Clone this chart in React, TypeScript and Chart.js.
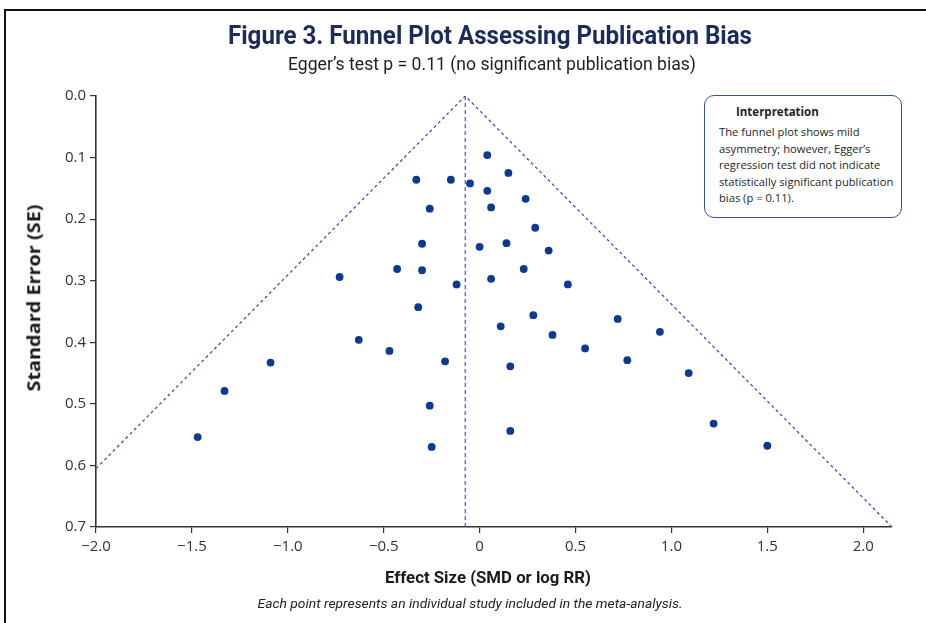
import React, { useEffect, useRef } from "react";
import { Chart, registerables } from "chart.js";

Chart.register(...registerables);

// ---- Data ----
const effectSize = [
  0.04, 0.15, -0.33, -0.15, -0.05, 0.04, 0.24, -0.26, 0.06, 0.29,
  -0.3, 0.0, 0.14, 0.36, -0.73, -0.43, -0.3, 0.23, -0.12, 0.06,
  0.46, -0.32, 0.28, 0.11, -0.63, -0.47, -0.18, 0.16, -1.09, -1.33,
  -0.26, 0.16, -1.47, -0.25, 0.72, 0.94, 0.38, 0.55, 0.77, 1.09,
  1.22, 1.5,
];
const standardError = [
  0.096, 0.125, 0.136, 0.136, 0.142, 0.154, 0.167, 0.183, 0.181, 0.214,
  0.24, 0.245, 0.239, 0.251, 0.294, 0.281, 0.283, 0.281, 0.306, 0.297,
  0.306, 0.343, 0.356, 0.374, 0.396, 0.414, 0.431, 0.439, 0.433, 0.479,
  0.503, 0.544, 0.554, 0.57, 0.362, 0.383, 0.388, 0.41, 0.429, 0.45,
  0.532, 0.568,
];
const pooledEffect = -0.075;
const funnelEffect = [-2.0, -0.075, 2.15];
const funnelSE = [0.605, 0, 0.7];
const centerSE = [0, 0.7];
const xTicks = [-2, -1.5, -1, -0.5, 0, 0.5, 1, 1.5, 2];
const yTicks = [0, 0.1, 0.2, 0.3, 0.4, 0.5, 0.6, 0.7];

const titleText = "Figure 3. Funnel Plot Assessing Publication Bias";
const subtitleText = "Egger\u2019s test p = 0.11 (no significant publication bias)";
const xTitle = "Effect Size (SMD or log RR)";
const yTitle = "Standard Error (SE)";
const footnote = "Each point represents an individual study included in the meta-analysis.";
const boxTitle = "Interpretation";
const boxLines = [
  "The funnel plot shows mild",
  "asymmetry; however, Egger\u2019s",
  "regression test did not indicate",
  "statistically significant publication",
  "bias (p = 0.11).",
];

const REGULAR = "'Open Sans', 'Noto Sans', sans-serif";

let measureCtx: CanvasRenderingContext2D | null = null;
function textWidth(text: string, font: string): number {
  if (!measureCtx) {
    const c = document.createElement("canvas");
    measureCtx = c.getContext("2d");
  }
  if (!measureCtx) return 0;
  measureCtx.font = font;
  return measureCtx.measureText(text).width;
}

function FitText(props: {
  text: string;
  font: string;
  width: number;
  cx: number;
  cy: number;
  color: string;
  rotate?: number;
}) {
  const w = textWidth(props.text, props.font);
  const s = w > 0 ? props.width / w : 1;
  return (
    <div
      style={{
        position: "absolute",
        left: props.cx,
        top: props.cy,
        font: props.font,
        lineHeight: 1.2,
        color: props.color,
        whiteSpace: "nowrap",
        transform: `translate(-50%, -50%) rotate(${props.rotate || 0}deg) scaleX(${s})`,
      }}
    >
      {props.text}
    </div>
  );
}

export default function App() {
  const ref = useRef<HTMLCanvasElement | null>(null);

  useEffect(() => {
    if (!ref.current) return;
    const fmtX = (v: number) =>
      v === 0 ? "0" : (v < 0 ? "\u2212" : "") + Math.abs(v).toFixed(1);
    const fixScale = (h: number | null, w: number | null) => (s: any) => {
      if (h !== null) s.height = h;
      if (w !== null) s.width = w;
      s.paddingLeft = 0;
      s.paddingRight = 0;
      s.paddingTop = 0;
      s.paddingBottom = 0;
    };
    const chart = new Chart(ref.current, {
      type: "scatter",
      data: {
        datasets: [
          {
            data: effectSize.map((x, i) => ({ x, y: standardError[i] })),
            backgroundColor: "#0b3a94",
            borderWidth: 0,
            pointRadius: 3.9,
          },
          {
            type: "line",
            data: funnelEffect.map((x, i) => ({ x, y: funnelSE[i] })),
            borderColor: "#3d52ad",
            borderWidth: 1.3,
            borderDash: [3, 3],
            pointRadius: 0,
            fill: false,
            tension: 0,
          },
          {
            type: "line",
            data: centerSE.map((y) => ({ x: pooledEffect, y })),
            borderColor: "#3d5cc0",
            borderWidth: 1.2,
            borderDash: [4, 3],
            pointRadius: 0,
            fill: false,
          },
        ] as any,
      },
      options: {
        animation: false,
        responsive: false,
        maintainAspectRatio: false,
        layout: { padding: { left: 0, top: 96, right: 34, bottom: 26 } },
        plugins: { legend: { display: false }, tooltip: { enabled: false } },
        scales: {
          x: {
            type: "linear",
            min: -2,
            max: 2.15,
            afterBuildTicks: (s: any) => {
              s.ticks = xTicks.map((value) => ({ value }));
            },
            afterFit: fixScale(70, null),
            grid: {
              display: true,
              drawOnChartArea: false,
              drawTicks: true,
              tickLength: 6,
              color: "#333",
              lineWidth: 1.2,
            },
            border: { display: true, color: "#333", width: 1.6 },
            ticks: {
              callback: (v: any) => fmtX(Number(v)),
              font: { family: REGULAR, size: 15 },
              color: "#333",
              padding: 5,
              maxRotation: 0,
              autoSkip: false,
            },
          },
          y: {
            type: "linear",
            reverse: true,
            min: 0,
            max: 0.7,
            afterBuildTicks: (s: any) => {
              s.ticks = yTicks.map((value) => ({ value }));
            },
            afterFit: fixScale(null, 96),
            grid: {
              display: true,
              drawOnChartArea: false,
              drawTicks: true,
              tickLength: 6,
              color: "#333",
              lineWidth: 1.2,
            },
            border: { display: true, color: "#333", width: 1.6 },
            ticks: {
              callback: (v: any) => Number(v).toFixed(1),
              font: { family: REGULAR, size: 15 },
              color: "#333",
              padding: 4,
            },
          },
        },
      },
    });
    return () => chart.destroy();
  }, []);

  return (
    <div
      style={{
        position: "fixed",
        left: 0,
        top: 0,
        width: 926,
        height: 623,
        background: "#fff",
        overflow: "hidden",
      }}
    >
      <div
        style={{
          position: "absolute",
          left: 4,
          top: 9,
          width: 1000,
          height: 1000,
          borderTop: "2px solid #111",
          borderLeft: "2px solid #111",
        }}
      />
      <canvas
        ref={ref}
        width={926}
        height={623}
        style={{ position: "absolute", left: 0, top: 0, width: 926, height: 623 }}
      />
      <FitText text={titleText} font="bold 26px Roboto" width={524} cx={490} cy={36} color="#1c2a5c" />
      <FitText text={subtitleText} font="18px Roboto" width={408} cx={492} cy={64} color="#1f1f1f" />
      <FitText text={xTitle} font="bold 17px Roboto" width={206} cx={488} cy={577} color="#1a1a1a" />
      <FitText text={yTitle} font={"bold 18px " + REGULAR} width={187} cx={34} cy={298} rotate={-90} color="#1a1a1a" />
      <FitText text={footnote} font="italic 13px Roboto" width={425} cx={470} cy={604} color="#222" />
      <div
        style={{
          position: "absolute",
          left: 704,
          top: 95,
          width: 198,
          height: 123,
          boxSizing: "border-box",
          border: "1.5px solid #3a4e9e",
          borderRadius: 10,
          background: "#fff",
          fontFamily: REGULAR,
          color: "#1f1f1f",
        }}
      >
        <div
          style={{
            position: "absolute",
            left: 31,
            top: 8,
            fontSize: 11.5,
            fontWeight: "bold",
            lineHeight: "16px",
          }}
        >
          {boxTitle}
        </div>
        <div
          style={{
            position: "absolute",
            left: 14,
            top: 28,
            fontSize: 11.2,
            lineHeight: "16.5px",
            whiteSpace: "nowrap",
          }}
        >
          {boxLines.map((l, i) => (
            <div key={i}>{l}</div>
          ))}
        </div>
      </div>
    </div>
  );
}
